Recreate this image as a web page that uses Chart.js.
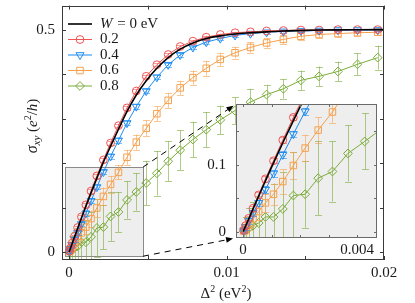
<!DOCTYPE html>
<html><head><meta charset="utf-8">
<script src="https://cdn.jsdelivr.net/npm/chart.js@4.4.1/dist/chart.umd.min.js"></script>
<style>
html,body{margin:0;padding:0;background:#fff;}
#wrap{position:relative;width:415px;height:303px;overflow:hidden;}
#main{position:absolute;left:0;top:0;}
#inset{position:absolute;left:200px;top:98px;}
</style></head><body>
<div id="wrap"><canvas id="main" width="415" height="303"></canvas><canvas id="inset" width="185" height="162"></canvas></div>
<script>
const FONT = "'Liberation Serif','DejaVu Serif',serif";

// x grid: Delta^2 (eV^2)
const deltaSq = [0.0000218, 0.0000871, 0.000196, 0.000348, 0.000544, 0.000784, 0.001067, 0.001393, 0.001764, 0.002178,
                 0.002635, 0.003136, 0.00368, 0.004268, 0.0049, 0.005575, 0.006294, 0.007056, 0.007862, 0.008711,
                 0.009604, 0.01054, 0.01152, 0.012544, 0.013611, 0.014722, 0.015876, 0.017074, 0.018316, 0.0196];

// W = 0 eV clean curve
const wZeroX = [0, 0.0000218, 0.0000871, 0.000196, 0.000348, 0.000544, 0.000784, 0.001067, 0.001393, 0.001764, 0.002178,
                0.002635, 0.003136, 0.00368, 0.004268, 0.0049, 0.005575, 0.006294, 0.007056, 0.007862, 0.008711,
                0.009604, 0.01054, 0.01152, 0.012544, 0.013611, 0.014722, 0.015876, 0.017074, 0.018316, 0.0196, 0.02];
const wZeroY = [0, 0.002, 0.0085, 0.019, 0.034, 0.053, 0.076, 0.103, 0.133, 0.166, 0.202,
                0.238, 0.276, 0.316, 0.353, 0.385, 0.413, 0.437, 0.456, 0.470, 0.480,
                0.486, 0.490, 0.493, 0.495, 0.497, 0.498, 0.499, 0.4995, 0.4998, 0.5, 0.5];

// W = 0.2
const sigma02 = [0.002, 0.009, 0.020, 0.035, 0.055, 0.079, 0.106, 0.137, 0.171, 0.207,
                 0.245, 0.284, 0.324, 0.362, 0.395, 0.421, 0.444, 0.462, 0.474, 0.483,
                 0.489, 0.493, 0.495, 0.497, 0.498, 0.499, 0.499, 0.5, 0.5, 0.5];
const err02 = [0.002, 0.003, 0.003, 0.004, 0.004, 0.004, 0.004, 0.004, 0.004, 0.004,
               0.004, 0.004, 0.004, 0.004, 0.004, 0.003, 0.003, 0.003, 0.003, 0.003,
               0.002, 0.002, 0.002, 0.002, 0.002, 0.002, 0.002, 0.002, 0.002, 0.002];
// W = 0.4
const sigma04 = [0.0015, 0.007, 0.016, 0.028, 0.043, 0.063, 0.087, 0.115, 0.146, 0.180,
                 0.215, 0.251, 0.290, 0.327, 0.362, 0.393, 0.421, 0.443, 0.460, 0.472,
                 0.480, 0.487, 0.491, 0.494, 0.496, 0.497, 0.498, 0.499, 0.499, 0.499];
const err04 = [0.003, 0.004, 0.004, 0.005, 0.005, 0.005, 0.005, 0.005, 0.005, 0.005,
               0.005, 0.005, 0.005, 0.005, 0.005, 0.005, 0.004, 0.004, 0.004, 0.004,
               0.003, 0.003, 0.003, 0.003, 0.003, 0.003, 0.003, 0.003, 0.003, 0.003];
// W = 0.6
const sigma06 = [0.001, 0.004, 0.010, 0.019, 0.030, 0.043, 0.056, 0.075, 0.099, 0.125,
                 0.152, 0.179, 0.213, 0.247, 0.278, 0.311, 0.341, 0.369, 0.392, 0.413,
                 0.433, 0.448, 0.460, 0.470, 0.478, 0.485, 0.489, 0.491, 0.493, 0.494];
const err06 = [0.004, 0.006, 0.008, 0.010, 0.012, 0.014, 0.016, 0.018, 0.020, 0.020,
               0.019, 0.016, 0.017, 0.017, 0.018, 0.017, 0.017, 0.016, 0.016, 0.017,
               0.015, 0.013, 0.012, 0.011, 0.010, 0.009, 0.008, 0.007, 0.007, 0.006];
// W = 0.8
const sigma08 = [0.001, 0.002, 0.005, 0.009, 0.013, 0.022, 0.022, 0.034, 0.054, 0.056,
                 0.080, 0.090, 0.117, 0.135, 0.155, 0.177, 0.204, 0.229, 0.253, 0.275,
                 0.297, 0.318, 0.337, 0.354, 0.367, 0.386, 0.395, 0.406, 0.422, 0.437];
const err08 = [0.010, 0.020, 0.030, 0.035, 0.040, 0.045, 0.050, 0.055, 0.065, 0.050,
               0.055, 0.045, 0.042, 0.042, 0.050, 0.050, 0.045, 0.045, 0.040, 0.040,
               0.032, 0.030, 0.030, 0.022, 0.022, 0.022, 0.022, 0.022, 0.025, 0.027];

const legendLabels = ['W = 0 eV', '0.2', '0.4', '0.6', '0.8'];

const xTicks = [0, 0.005, 0.01, 0.015, 0.02];
const xTickLabels = ['0', '', '0.01', '', '0.02'];
const yTicks = [0, 0.1, 0.2, 0.3, 0.4, 0.5];
const yTickLabels = ['0', '', '', '', '', '0.5'];
const insetXTicks = [0, 0.001, 0.002, 0.003, 0.004];
const insetXTickLabels = ['0', '', '', '', '0.004'];
const insetYTicks = [0, 0.05, 0.1, 0.15];
const insetYTickLabels = ['0', '', '0.1', ''];

const seriesY = [sigma02, sigma04, sigma06, sigma08];
const seriesErr = [err02, err04, err06, err08];
const seriesStyle = [
  {color:'#f05454', errColor:'rgba(240,84,84,0.55)', pointStyle:'circle', radius:3.9, rotation:0},
  {color:'#1c8cf2', errColor:'rgba(28,140,242,0.55)', pointStyle:'triangle', radius:4.6, rotation:180},
  {color:'#f6a04d', errColor:'rgba(246,160,77,0.6)', pointStyle:'rect', radius:4.6, rotation:0},
  {color:'#7aac3a', errColor:'rgba(122,172,58,0.6)', pointStyle:'rectRot', radius:4.4, rotation:0}
];

const mainRange = {xmin:-0.00045, xmax:0.02, ymin:-0.018, ymax:0.554};
const insetRange = {xmin:-0.00025, xmax:0.0047, ymin:-0.0095, ymax:0.191};

function makeDatasets(){
  const out = [{label:legendLabels[0], data:wZeroX.map((x,i)=>({x:x, y:wZeroY[i]})),
    borderColor:'#000', borderWidth:1.6, pointRadius:0, cubicInterpolationMode:'monotone', fill:false}];
  seriesY.forEach((ys,k)=>{
    const st = seriesStyle[k];
    out.push({label:legendLabels[k+1], data:deltaSq.map((x,i)=>({x:x, y:ys[i]})),
      borderColor:st.color, backgroundColor:'rgba(0,0,0,0)', borderWidth:1,
      pointStyle:st.pointStyle, pointRadius:st.radius, pointRotation:st.rotation,
      pointBorderWidth:1, pointBorderColor:st.color, pointBackgroundColor:'rgba(0,0,0,0)', fill:false});
  });
  return out;
}

const errorBarPlugin = {
  id:'errbars',
  beforeDatasetDraw(chart, args){
    const k = args.index - 1;
    if (k < 0) return;
    const {ctx, chartArea:a, scales:{x, y}} = chart;
    const ys = seriesY[k], es = seriesErr[k], cap = 3.5;
    ctx.save();
    ctx.beginPath(); ctx.rect(a.left, a.top, a.right-a.left, a.bottom-a.top); ctx.clip();
    ctx.strokeStyle = seriesStyle[k].errColor; ctx.lineWidth = 1;
    deltaSq.forEach((xv,i)=>{
      const px = Math.round(x.getPixelForValue(xv)) + 0.5;
      const p1 = y.getPixelForValue(ys[i]-es[i]), p2 = y.getPixelForValue(ys[i]+es[i]);
      ctx.beginPath();
      ctx.moveTo(px, p1); ctx.lineTo(px, p2);
      ctx.moveTo(px-cap, Math.round(p1)+0.5); ctx.lineTo(px+cap, Math.round(p1)+0.5);
      ctx.moveTo(px-cap, Math.round(p2)+0.5); ctx.lineTo(px+cap, Math.round(p2)+0.5);
      ctx.stroke();
    });
    ctx.restore();
  }
};

function drawFrame(chart, xt, yt, len, color){
  const {ctx, chartArea:a, scales:{x, y}} = chart;
  ctx.save(); ctx.strokeStyle = color; ctx.lineWidth = 1; ctx.beginPath();
  xt.forEach(v=>{ const p = Math.round(x.getPixelForValue(v))+0.5;
    ctx.moveTo(p, a.bottom); ctx.lineTo(p, a.bottom-len); ctx.moveTo(p, a.top); ctx.lineTo(p, a.top+len); });
  yt.forEach(v=>{ const p = Math.round(y.getPixelForValue(v))+0.5;
    ctx.moveTo(a.left, p); ctx.lineTo(a.left+len, p); ctx.moveTo(a.right, p); ctx.lineTo(a.right-len, p); });
  ctx.stroke();
  ctx.strokeRect(Math.round(a.left)+0.5, Math.round(a.top)+0.5, Math.round(a.right-a.left)-1, Math.round(a.bottom-a.top)-1);
  ctx.restore();
}

function drawRich(ctx, parts, cx, baseY){
  let w = 0;
  parts.forEach(p=>{ ctx.font = (p.italic?'italic ':'') + p.s + 'px ' + FONT; p.w = ctx.measureText(p.t).width + (p.gap||0); w += p.w; });
  let x = cx - w/2;
  ctx.textBaseline = 'alphabetic'; ctx.textAlign = 'left';
  parts.forEach(p=>{ ctx.font = (p.italic?'italic ':'') + p.s + 'px ' + FONT; ctx.fillText(p.t, x, baseY + (p.dy||0)); x += p.w; });
}

function scaleCfg(range, ticks, labels, isX, size, pad){
  return {
    type:'linear', min: isX?range.xmin:range.ymin, max: isX?range.xmax:range.ymax,
    grid:{display:false, drawTicks:false, tickLength:0}, border:{display:false},
    afterBuildTicks: s => { s.ticks = ticks.map(v=>({value:v})); },
    afterFit: s => {
      if (isX) s.height = size; else s.width = size;
      s.paddingTop = 0; s.paddingBottom = 0; s.paddingLeft = 0; s.paddingRight = 0;
    },
    ticks:{ autoSkip:false, maxRotation:0, color:'#1a1a1a', font:{family:FONT, size:15},
      padding: pad, callback:(v,i)=>labels[i] }
  };
}

// ---------- inset ----------
const insetChart = new Chart(document.getElementById('inset'), {
  type:'line',
  data:{datasets: makeDatasets()},
  options:{
    responsive:false, animation:false, events:[],
    layout:{padding:{left:0, right:8, top:6, bottom:0}},
    plugins:{legend:{display:false}, tooltip:{enabled:false}},
    scales:{ x: scaleCfg(insetRange, insetXTicks, insetXTickLabels, true, 22, 3),
             y: scaleCfg(insetRange, insetYTicks, insetYTickLabels, false, 36, 10) }
  },
  plugins:[
    {id:'insetBg', beforeDatasetsDraw(chart){ const {ctx, chartArea:a} = chart; ctx.save(); ctx.fillStyle = '#eeeeee'; ctx.fillRect(a.left, a.top, a.right-a.left, a.bottom-a.top); ctx.restore(); }},
    errorBarPlugin,
    {id:'insetFrame', afterDatasetsDraw(chart){ drawFrame(chart, insetXTicks, insetYTicks, 3, '#6a6a6a'); }}
  ]
});

// ---------- main ----------
function arrow(ctx, x0, y0, x1, y1){
  const dx = x1-x0, dy = y1-y0, L = Math.hypot(dx, dy), ux = dx/L, uy = dy/L;
  const tx = x1 - ux*3, ty = y1 - uy*3;
  ctx.save(); ctx.strokeStyle = '#000'; ctx.lineWidth = 1; ctx.setLineDash([6,5]);
  ctx.beginPath(); ctx.moveTo(x0, y0); ctx.lineTo(tx - ux*6, ty - uy*6); ctx.stroke();
  ctx.setLineDash([]); ctx.fillStyle = '#000';
  ctx.beginPath(); ctx.moveTo(tx, ty);
  ctx.lineTo(tx - ux*7 - uy*3, ty - uy*7 + ux*3);
  ctx.lineTo(tx - ux*7 + uy*3, ty - uy*7 - ux*3);
  ctx.closePath(); ctx.fill(); ctx.restore();
}

const mainChart = new Chart(document.getElementById('main'), {
  type:'line',
  data:{datasets: makeDatasets()},
  options:{
    responsive:false, animation:false, events:[],
    layout:{padding:{left:0, right:31, top:5, bottom:0}},
    plugins:{legend:{display:false}, tooltip:{enabled:false}},
    scales:{ x: scaleCfg(mainRange, xTicks, xTickLabels, true, 43, 4),
             y: scaleCfg(mainRange, yTicks, yTickLabels, false, 62, 7) }
  },
  plugins:[
    {id:'zoomRect', beforeDatasetsDraw(chart){
      const {ctx, scales:{x, y}} = chart;
      const l = Math.round(x.getPixelForValue(insetRange.xmin))+0.5, r = Math.round(x.getPixelForValue(insetRange.xmax))+0.5;
      const t = Math.round(y.getPixelForValue(insetRange.ymax))+0.5, b = Math.round(y.getPixelForValue(insetRange.ymin))+0.5;
      ctx.save(); ctx.fillStyle = '#eeeeee'; ctx.fillRect(l, t, r-l, b-t);
      ctx.strokeStyle = '#8a8a8a'; ctx.lineWidth = 1; ctx.strokeRect(l, t, r-l, b-t); ctx.restore();
    }},
    errorBarPlugin,
    {id:'mainFrame', afterDatasetsDraw(chart){
      drawFrame(chart, xTicks, yTicks, 4, '#3a3a3a');
      const {ctx, scales:{x, y}} = chart;
      const c = insetChart.canvas, ia = insetChart.chartArea;
      const ox = c.offsetLeft, oy = c.offsetTop;
      const rx = x.getPixelForValue(insetRange.xmax);
      arrow(ctx, rx, y.getPixelForValue(insetRange.ymax), ox + ia.left, oy + ia.top);
      arrow(ctx, rx, y.getPixelForValue(insetRange.ymin), ox + ia.left, oy + ia.bottom);
    }},
    {id:'texts', afterDraw(chart){
      const ctx = chart.ctx, a = chart.chartArea;
      ctx.save(); ctx.fillStyle = '#1a1a1a';
      // x title
      drawRich(ctx, [{t:'\u0394', s:15}, {t:'2', s:10, dy:-6}, {t:' (eV', s:15}, {t:'2', s:10, dy:-6}, {t:')', s:15}], (a.left+a.right)/2 + 3, 298);
      // y title
      ctx.save(); ctx.translate(37, 126); ctx.rotate(-Math.PI/2);
      drawRich(ctx, [{t:'\u03C3', s:16, italic:true}, {t:'xy', s:11, italic:true, dy:3}, {t:' (', s:15}, {t:'e', s:15, italic:true},
                     {t:'2', s:10, dy:-6}, {t:'/', s:15}, {t:'h', s:15, italic:true}, {t:')', s:15}], 0, 0);
      ctx.restore();
      // legend
      const rows = [24, 39.5, 55, 70.5, 86];
      const lx0 = a.left + 6, lx1 = a.left + 30, tx = a.left + 38;
      chart.data.datasets.forEach((ds, i)=>{
        const yy = rows[i];
        ctx.save();
        ctx.strokeStyle = ds.borderColor; ctx.lineWidth = ds.borderWidth;
        ctx.beginPath(); ctx.moveTo(lx0, yy); ctx.lineTo(lx1, yy); ctx.stroke();
        if (i > 0) {
          ctx.fillStyle = 'rgba(0,0,0,0)'; ctx.lineWidth = 1;
          Chart.helpers.drawPoint(ctx, {pointStyle: ds.pointStyle, radius: ds.pointRadius, rotation: ds.pointRotation, borderWidth:1}, (lx0+lx1)/2, yy);
        }
        ctx.restore();
        ctx.fillStyle = '#1a1a1a'; ctx.textBaseline = 'middle'; ctx.textAlign = 'left';
        if (i === 0) {
          const m = ds.label.match(/^(\S+)(.*)$/);
          ctx.font = 'italic 15px ' + FONT; ctx.fillText(m[1], tx, yy);
          const w = ctx.measureText(m[1]).width;
          ctx.font = '15px ' + FONT; ctx.fillText(m[2], tx + w + 1, yy);
        } else {
          ctx.font = '15px ' + FONT; ctx.fillText(ds.label, tx, yy);
        }
      });
      ctx.restore();
    }}
  ]
});
</script>
</body></html>
